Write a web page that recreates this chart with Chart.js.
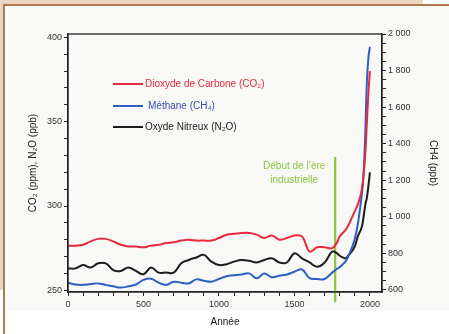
<!DOCTYPE html>
<html><head><meta charset="utf-8">
<script src="https://cdn.jsdelivr.net/npm/chart.js@4/dist/chart.umd.min.js"></script>
<style>
html,body{margin:0;padding:0;background:#fff;width:449px;height:334px;overflow:hidden;font-family:"Liberation Sans",Arial,sans-serif}
#wrap{position:absolute;left:0;top:0;width:449px;height:334px}
.bg{position:absolute;left:8px;top:6px;width:441px;height:305px;background:#f8f8f6}
.topband{position:absolute;left:0;top:0;width:423px;height:4px;background:#ecd6c2}
.topline{position:absolute;left:0;top:4px;width:449px;height:2px;background:#b07a4e}
.leftband{position:absolute;left:0;top:0;width:3px;height:290px;background:#ecd6c2}
.leftline{position:absolute;left:3px;top:4px;width:2px;height:330px;background:#b07a4e}
canvas{position:absolute;left:0;top:0}
</style></head>
<body>
<div id="wrap">
<div class="bg"></div>
<div class="topband"></div><div class="topline"></div>
<div class="leftband"></div><div class="leftline"></div>
<canvas id="c" width="449" height="334"></canvas>
</div>
<script>
// ---- data ----
const years = [0,50,100,150,200,250,300,350,400,450,500,550,600,650,700,750,800,850,900,950,1000,1050,1100,1150,1200,1250,1300,1350,1400,1450,1500,1550,1600,1650,1700,1750,1780,1800,1820,1840,1860,1880,1900,1920,1940,1950,1960,1970,1980,1990,2000];
const co2 = [276.5,276.5,277,279,280.5,280.5,279,277,276,276,275.5,276.5,277,278,278.5,279.5,280,279.5,279.5,279.5,281,283,283.5,284,284,283,281,282.5,280,281,282.5,282,273,275.5,275.5,275,278,282,284,286,289,293,297,301,307,312,320,332,350,367,380];
const ch4 = [640,630,628,633,636,628,620,613,620,630,655,662,640,628,645,640,636,658,650,645,660,675,680,685,691,664,690,670,678,685,700,712,665,660,660,695,715,725,740,758,790,830,880,960,1080,1150,1270,1480,1740,1870,1930];
const n2o = [263,263,265,263.5,266,266,262,261.5,263.5,261.5,259.5,263.5,260.5,260.5,260.5,266,268,269.5,271,267,265,265.5,267,268,267.5,266.5,268,269,266.5,266.5,272,269,266.5,264,266.5,273,272,270.5,269.5,269,271,273,276,282,286,289,295,301,305,312,320];
const industrialYear = 1770;
const industrialSpan = [243, 329];
const xTickLabels = [0,500,1000,1500,2000];
const leftTickLabels = [250,300,350,400];
const rightTickLabels = ['600','800','1 000','1 200','1 400','1 600','1 800','2 000'];
const rightTickValues = [600,800,1000,1200,1400,1600,1800,2000];
const seriesNames = ['Dioxyde de Carbone (CO\u2082)','M\u00e9thane (CH\u2084)','Oxyde Nitreux (N\u2082O)'];
const seriesColors = ['#e8283c','#2e5fc4','#1c1c1c'];
const markerText = ['D\u00e9but de l\u2019\u00e8re','industrielle'];
const markerColor = '#8cc63f';

const pts = arr => years.map((y,i)=>({x:y,y:arr[i]}));
const FONT = '"Liberation Sans", Arial, sans-serif';

function rangeTicks(a,b,s){const t=[];for(let v=a;v<=b+1e-9;v+=s)t.push({value:v});return t;}

const framePlugin = {
  id:'frame',
  afterDatasetsDraw(chart){
    const {ctx, chartArea:a} = chart;
    ctx.save();
    ctx.strokeStyle='#222'; ctx.lineWidth=1.3;
    ctx.strokeRect(a.left, a.top, a.right-a.left, a.bottom-a.top);
    ctx.restore();
  },
  afterDraw(chart){
    const {ctx, chartArea:a, scales} = chart;
    ctx.save();
    // legend
    const lx0 = a.left+45, lx1 = a.left+75;
    const ly = [a.top+50, a.top+72, a.top+93];
    const tx = [lx1+2, lx1+5, lx1+2];
    ctx.font = '10px '+FONT;
    ctx.textBaseline='middle';
    for(let i=0;i<3;i++){
      ctx.strokeStyle=seriesColors[i]; ctx.lineWidth=2;
      ctx.beginPath(); ctx.moveTo(lx0,ly[i]); ctx.lineTo(lx1,ly[i]); ctx.stroke();
      ctx.fillStyle = i===1 ? '#3a4fb0' : seriesColors[i];
      ctx.fillText(seriesNames[i], tx[i], ly[i]);
    }
    // industrial label
    const xm = scales.x.getPixelForValue(industrialYear);
    const ym = scales.y.getPixelForValue(industrialSpan[1]);
    ctx.fillStyle=markerColor; ctx.textAlign='center';
    ctx.font='10px '+FONT;
    ctx.fillText(markerText[0], xm-41, ym+9);
    ctx.fillText(markerText[1], xm-41, ym+23);
    ctx.restore();
  }
};

new Chart(document.getElementById('c'), {
  type:'line',
  data:{
    datasets:[
      {label:seriesNames[0], data:pts(co2), yAxisID:'y', borderColor:seriesColors[0], borderWidth:2, pointRadius:0, tension:0.4, fill:false},
      {label:seriesNames[1], data:pts(ch4), yAxisID:'y2', borderColor:seriesColors[1], borderWidth:2, pointRadius:0, tension:0.4, fill:false},
      {label:seriesNames[2], data:pts(n2o), yAxisID:'y', borderColor:seriesColors[2], borderWidth:2, pointRadius:0, tension:0.4, fill:false},
      {label:'marker', data:[{x:industrialYear,y:industrialSpan[0]},{x:industrialYear,y:industrialSpan[1]}], yAxisID:'y', borderColor:markerColor, borderWidth:2.2, pointRadius:0, clip:false, tension:0}
    ]
  },
  options:{
    responsive:false, animation:false, devicePixelRatio:1,
    layout:{padding:{top:34,left:0,right:0,bottom:0}},
    plugins:{legend:{display:false}, tooltip:{enabled:false}},
    scales:{
      x:{type:'linear', min:0, max:2080,
        afterBuildTicks(s){s.ticks=rangeTicks(0,2000,100);},
        afterFit(s){s.height=42;},
        grid:{drawOnChartArea:false, drawTicks:true, tickLength:4, color:'#222'},
        border:{color:'#222', width:1.3},
        ticks:{autoSkip:false, maxRotation:0, padding:3, color:'#333', font:{family:FONT,size:9},
          callback:v=> xTickLabels.includes(v)? String(v):''},
        title:{display:true, text:'Ann\u00e9e', color:'#222', font:{family:FONT,size:10}, padding:{top:0,bottom:6}}
      },
      y:{type:'linear', position:'left', min:249, max:402,
        afterBuildTicks(s){s.ticks=rangeTicks(250,400,10);},
        afterFit(s){s.width=68;},
        grid:{drawOnChartArea:false, drawTicks:true, tickLength:4, color:'#222'},
        border:{color:'#222', width:1.3},
        ticks:{autoSkip:false, padding:2, color:'#333', font:{family:FONT,size:9},
          callback:v=> leftTickLabels.includes(v)? String(v):''},
        title:{display:true, text:'CO\u2082 (ppm), N\u2082O (ppb)', color:'#222', font:{family:FONT,size:10}, padding:{top:27,bottom:0}}
      },
      y2:{type:'linear', position:'right', min:589, max:2000,
        afterBuildTicks(s){s.ticks=rangeTicks(600,2000,50);},
        afterFit(s){s.width=67;},
        grid:{drawOnChartArea:false, drawTicks:true, tickLength:4, color:'#222'},
        border:{color:'#222', width:1.3},
        ticks:{autoSkip:false, padding:2, color:'#333', font:{family:FONT,size:9},
          callback:v=>{const i=rightTickValues.indexOf(v); return i>=0? rightTickLabels[i]:'';}},
        title:{display:true, text:'CH4 (ppb)', color:'#222', font:{family:FONT,size:10}, padding:{top:10,bottom:0}}
      }
    }
  },
  plugins:[framePlugin]
});
</script>
</body></html>
